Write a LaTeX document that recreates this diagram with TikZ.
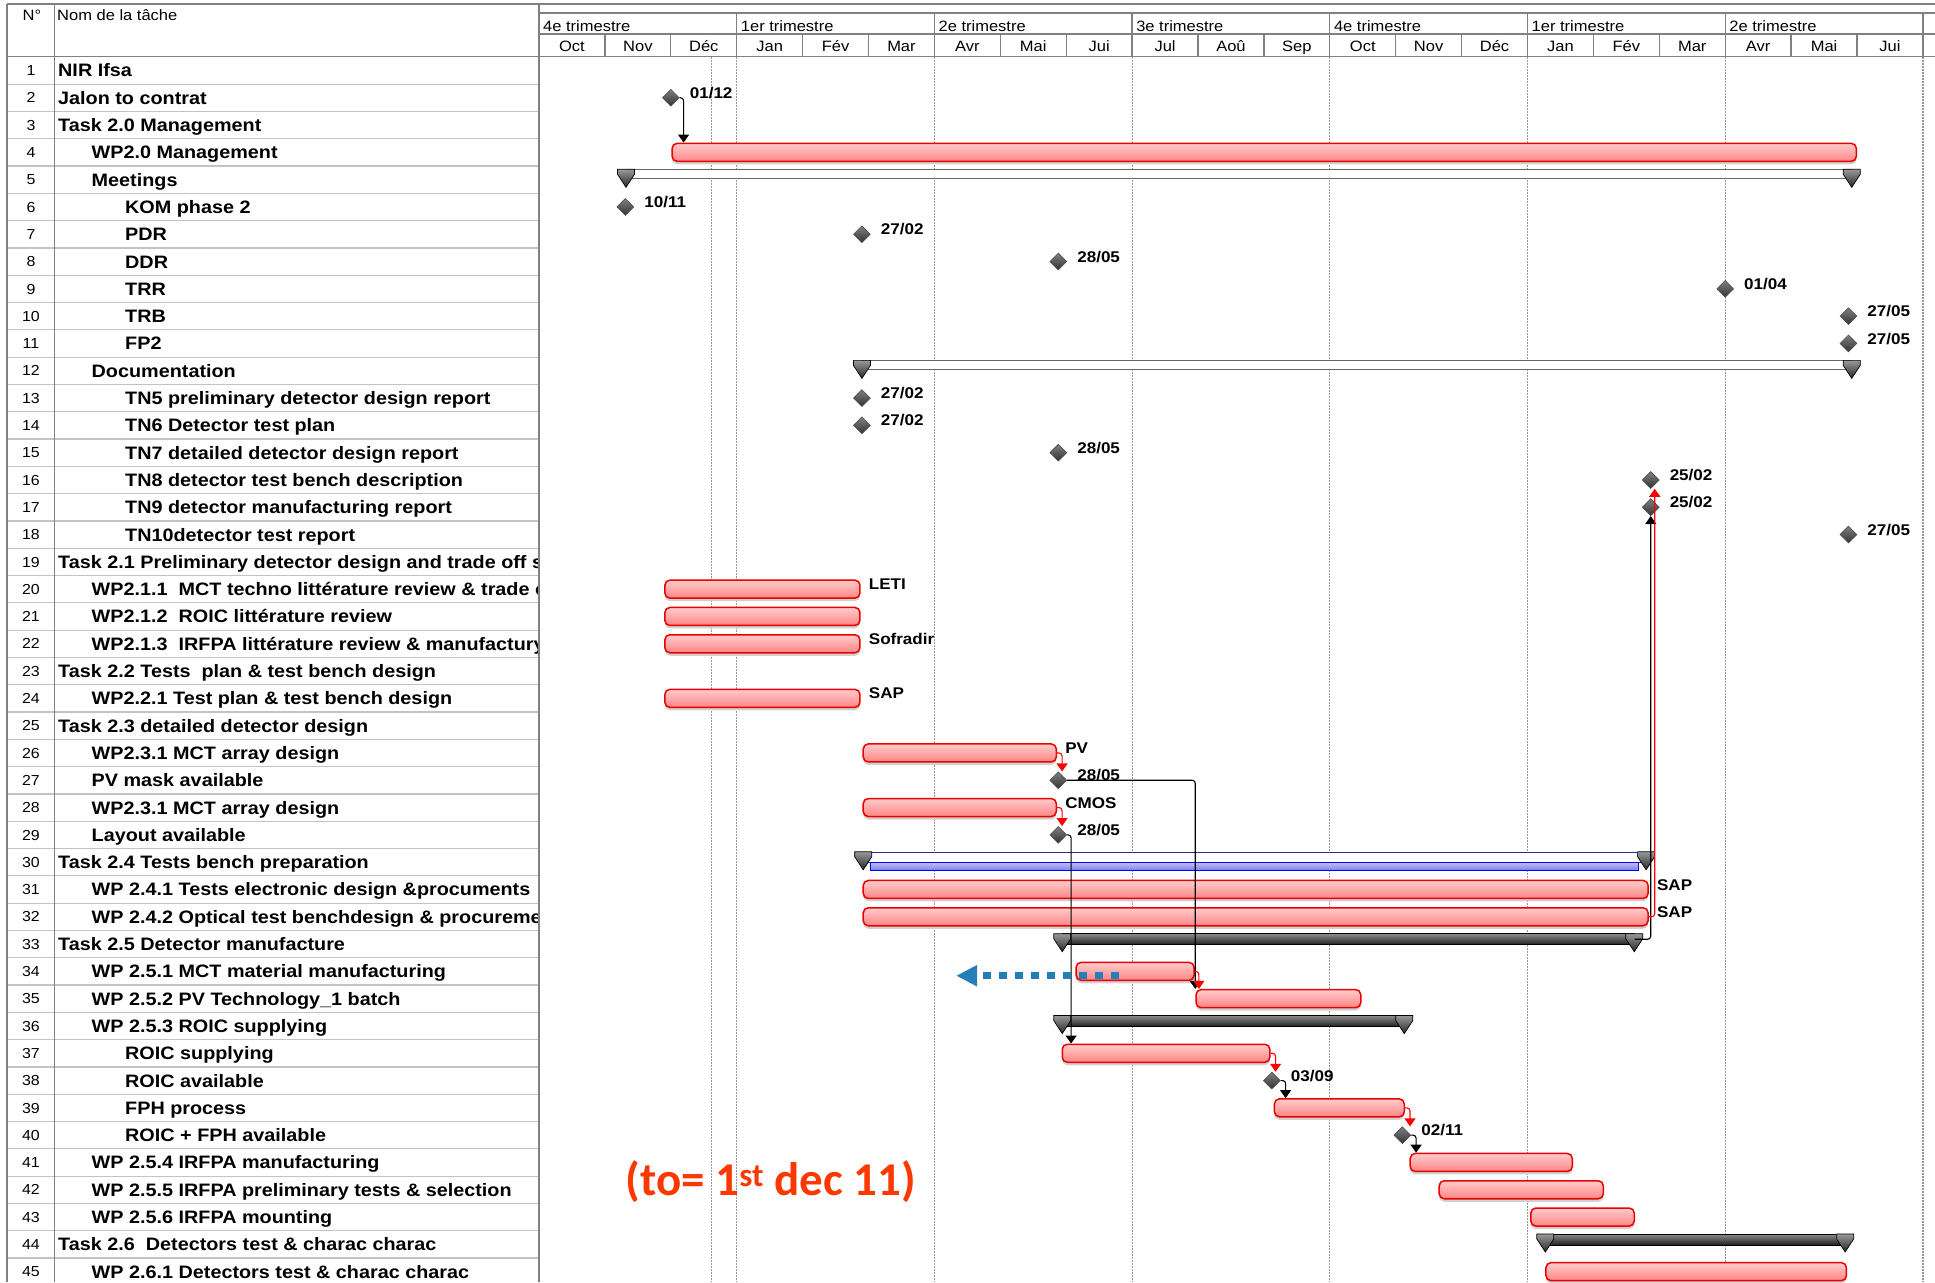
\documentclass[tikz,border=0pt]{standalone}
\usepackage{fontspec}
\setmainfont{Liberation Sans}[FakeStretch=1.1]
\newfontfamily\calibrifont{Carlito}
\usetikzlibrary{shapes.geometric, arrows.meta, positioning, shadows}

\definecolor{barred}{RGB}{235,0,0}
\definecolor{gridgray}{RGB}{150,150,150}
\definecolor{linegray}{RGB}{128,128,128}
\definecolor{rowgray}{RGB}{195,195,195}
\definecolor{noteorange}{RGB}{250,56,0}
\definecolor{dotblue}{RGB}{36,126,184}
\definecolor{progblue}{RGB}{70,70,230}

% bar: name, start month, end month, row
\newcommand\gbar[4]{%
  \node[taskbar, minimum width={(#3-#2)*65.9pt}] (#1) at ({(#2+#3)/2}, #4-0.5) {};}
% summary bar with end caps
\newcommand\gsum[5][sumbar]{%
  \node[#1, minimum width={(#4-#3)*65.9pt}] (#2) at ({(#3+#4)/2}, #5-0.5) {};
  \pic at (#3, #5-0.88) {sumcap};
  \pic at (#4, #5-0.88) {sumcap};}
% milestone with date
\newcommand\gmile[4]{%
  \node[mstone] (#1) at (#2, #3-0.5) {};
  \node[lbl, right=10pt of #1, yshift=5pt] (#1t) {#4};}
% resource label next to a bar
\newcommand\blabel[3]{\node[lbl, right=8pt of #2, yshift=5pt] (#1) {#3};}

\tikzset{
  sumcap/.pic={\shade[top color=black!40, bottom color=black!85, draw=black, line width=.7pt]
    (-8.5pt,0pt) -- (8.5pt,0pt) -- (8.5pt,-5pt) -- (0pt,-18pt) -- (-8.5pt,-5pt) -- cycle;}
}

\begin{document}
\begin{tikzpicture}[x=1pt, y=-1pt,
  hdr/.style={draw=linegray, line width=1.3pt},
  rowline/.style={draw=rowgray, line width=1.2pt},
  gridline/.style={draw=gridgray, line width=1.2pt, dash pattern=on 2pt off 1pt},
  hdrtext/.style={font=\fontsize{15}{17}\selectfont, inner sep=0pt},
  num/.style={font=\fontsize{14.5}{16}\selectfont, inner sep=0pt, text height=10.4pt, text depth=0pt},
  taskname/.style={font=\bfseries\fontsize{18}{20}\selectfont, anchor=west, inner sep=0pt, text height=12.9pt, text depth=0pt},
  lbl/.style={font=\bfseries\fontsize{15.5}{17}\selectfont, inner sep=0pt, text height=11.1pt, text depth=0pt},
  taskbar/.style={rectangle, draw=barred, line width=1.5pt, rounded corners=5pt, top color=red!20, bottom color=red!48,
    minimum height=18pt, inner sep=0pt, drop shadow={shadow xshift=0pt, shadow yshift=-3pt, fill=black!18, opacity=1}},
  sumbar/.style={rectangle, draw=black, line width=1pt, top color=black!45, bottom color=black!88,
    minimum height=11pt, inner sep=0pt, yshift=4.8pt},
  thinsum/.style={rectangle, draw=black!60, line width=1.1pt, fill=white, minimum height=9pt, inner sep=0pt, yshift=5.5pt},
  bluesum/.style={rectangle, draw=black!40!progblue, line width=1pt, fill=white, minimum height=10pt, inner sep=0pt, yshift=4.5pt},
  progbar/.style={rectangle, draw=blue, line width=1pt, top color=progblue!35, bottom color=progblue!70,
    minimum height=8pt, inner sep=0pt, yshift=-4.3pt},
  mstone/.style={diamond, minimum size=17pt, inner sep=0pt, top color=black!50, bottom color=black!80, draw=black!70, line width=.6pt},
  deplink/.style={draw=black, line width=1.1pt, rounded corners=3pt, -{Triangle[length=8pt, width=11pt]}},
  reddep/.style={draw=red, line width=1.1pt, rounded corners=3pt, -{Triangle[length=8pt, width=11pt]}},
  dotarrow/.style={draw=dotblue, line width=6.5pt, dash pattern=on 8pt off 8pt, -{Triangle[length=21pt, width=20pt]}}
]
\useasboundingbox (0,0) rectangle (1935,1282);

% Grid
\foreach \g in {2.62,3,6,9,12,15,18,21}
  \draw[gridline] ({539+65.9*\g},56.8) -- ({539+65.9*\g},1282);

% Header
\draw[hdr] (7,4) -- (1935,4);
\draw[hdr] (539,13) -- (1935,13);
\draw[hdr] (539,34) -- (1935,34);
\draw[hdr] (7,56.8) -- (1935,56.8);
\foreach \i in {1,...,7} \draw[hdr] ({539+197.7*\i},13) -- ({539+197.7*\i},34);
\foreach \i in {1,...,21} \draw[hdr] ({539+65.9*\i},34) -- ({539+65.9*\i},56.8);
\node[hdrtext, anchor=base] (hN) at (32,20) {N°};
\node[hdrtext, anchor=base west] (hNom) at (57,20) {Nom de la tâche};
\foreach \q [count=\i from 0] in {4e trimestre, 1er trimestre, 2e trimestre, 3e trimestre, 4e trimestre, 1er trimestre, 2e trimestre}
  \node[hdrtext, anchor=base west] (q\i) at ({539+197.7*\i+4}, 31) {\q};
\foreach \mo [count=\i from 0] in {Oct,Nov,Déc,Jan,Fév,Mar,Avr,Mai,Jui,Jul,Aoû,Sep,Oct,Nov,Déc,Jan,Fév,Mar,Avr,Mai,Jui}
  \node[hdrtext, anchor=base] (mo\i) at ({539+65.9*(\i+0.5)}, 51) {\mo};

% Task table
\foreach \r in {1,...,45} \draw[rowline] (7,{56.8+27.3*\r}) -- (539,{56.8+27.3*\r});
\draw[hdr] (7,4) -- (7,1282);
\draw[hdr] (54.5,4) -- (54.5,1282);
\draw[hdr] (539,4) -- (539,1282);
\foreach \r in {1,...,45} \node[num] (n\r) at (31,{56.8+27.3*(\r-0.5)}) {\r};
\begin{scope}
\clip (54.5,56.8) rectangle (537.5,1282);
\foreach \lev/\name [count=\r] in {0/NIR Ifsa, 0/Jalon to contrat, 0/Task 2.0 Management, 1/WP2.0 Management,
  1/Meetings, 2/KOM phase 2, 2/PDR, 2/DDR, 2/TRR, 2/TRB, 2/FP2, 1/Documentation,
  2/TN5 preliminary detector design report, 2/TN6 Detector test plan, 2/TN7 detailed detector design report,
  2/TN8 detector test bench description, 2/TN9 detector manufacturing report, 2/TN10detector test report,
  0/Task 2.1 Preliminary detector design and trade off s, 1/WP2.1.1\ \ MCT techno littérature review \& trade o,
  1/WP2.1.2\ \ ROIC littérature review, 1/WP2.1.3\ \ IRFPA littérature review \& manufactury,
  0/Task 2.2 Tests\ \ plan \& test bench design, 1/WP2.2.1 Test plan \& test bench design,
  0/Task 2.3 detailed detector design, 1/WP2.3.1 MCT array design, 1/PV mask available,
  1/WP2.3.1 MCT array design, 1/Layout available, 0/Task 2.4 Tests bench preparation,
  1/WP 2.4.1 Tests electronic design \&procuments, 1/WP 2.4.2 Optical test benchdesign \& procureme,
  0/Task 2.5 Detector manufacture, 1/WP 2.5.1 MCT material manufacturing, 1/WP 2.5.2 PV Technology\_1 batch,
  1/WP 2.5.3 ROIC supplying, 2/ROIC supplying, 2/ROIC available, 2/FPH process, 2/ROIC + FPH available,
  1/WP 2.5.4 IRFPA manufacturing, 1/WP 2.5.5 IRFPA preliminary tests \& selection, 1/WP 2.5.6 IRFPA mounting,
  0/Task 2.6\ \ Detectors test \& charac charac, 1/WP 2.6.1 Detectors test \& charac charac}
  \node[taskname] (t\r) at ({58+33.5*\lev},{56.8+27.3*(\r-0.5)}) {\name};
\end{scope}

% Chart: x in months from Oct, y in rows
\begin{scope}[shift={(539,56.8)}, x=65.9pt, y=-27.3pt]
% Bars
\gbar{b4}{2.02}{19.99}{4}
\foreach \r in {20,21,22,24} {\gbar{b\r}{1.91}{4.87}{\r}}
\gbar{b26}{4.92}{7.85}{26}
\gbar{b28}{4.92}{7.85}{28}
\gbar{b31}{4.92}{16.83}{31}
\gbar{b32}{4.92}{16.83}{32}
\gbar{b34}{8.15}{9.94}{34}
\gbar{b35}{9.97}{12.47}{35}
\gbar{b37}{7.94}{11.09}{37}
\gbar{b39}{11.16}{13.13}{39}
\gbar{b41}{13.22}{15.68}{41}
\gbar{b42}{13.66}{16.15}{42}
\gbar{b43}{15.05}{16.62}{43}
\gbar{b45}{15.28}{19.84}{45}

% Summaries
\gsum[thinsum]{s5}{1.32}{19.92}{5}
\gsum[thinsum]{s12}{4.9}{19.92}{12}
\gsum[bluesum]{s30}{4.92}{16.8}{30}
\node[progbar, minimum width={(16.68-5.03)*65.9pt}] (p30) at ({(5.03+16.68)/2}, 29.5) {};
\gsum{s33}{7.94}{16.62}{33}
\gsum{s36}{7.94}{13.13}{36}
\gsum{s44}{15.27}{19.82}{44}

% Resources
\blabel{l20}{b20}{LETI}
\blabel{l22}{b22}{Sofradir}
\blabel{l24}{b24}{SAP}
\blabel{l26}{b26}{PV}
\blabel{l28}{b28}{CMOS}
\blabel{l31}{b31}{SAP}
\blabel{l32}{b32}{SAP}

% Milestones
\foreach \r/\mx/\dd/\mm in {2/2.0/01/12, 6/1.31/10/11, 7/4.9/27/02, 8/7.88/28/05, 9/18.0/01/04,
  10/19.87/27/05, 11/19.87/27/05, 13/4.9/27/02, 14/4.9/27/02, 15/7.88/28/05, 16/16.87/25/02,
  17/16.87/25/02, 18/19.87/27/05, 27/7.88/28/05, 29/7.88/28/05, 38/11.12/03/09, 40/13.1/02/11}
  {\gmile{m\r}{\mx}{\r}{\dd/\mm}}

% Links
\draw[deplink] (m2.east) -| ([xshift=4pt]m2.east |- b4.north);
\draw[reddep] (b26.east) -| ([xshift=5pt]b26.east |- m27.north);
\draw[reddep] (b28.east) -| ([xshift=5pt]b28.east |- m29.north);
\draw[deplink] (m27.east) -| (b35.north west);
\draw[deplink] (m29.east) -| ([xshift=4pt]m29.east |- b37.north);
\draw[reddep] (b34.east) -| ([xshift=4pt]b34.east |- b35.north);
\draw[reddep] (b37.east) -| ([xshift=5pt]b37.east |- m38.north);
\draw[deplink] (m38.east) -| ([xshift=5pt]m38.east |- b39.north);
\draw[reddep] (b39.east) -| ([xshift=5pt]b39.east |- m40.north);
\draw[deplink] (m40.east) -| ([xshift=5pt]m40.east |- b41.north);
\draw[deplink] (s33.east) -| (m17.south);
\draw[reddep] (b32.east) -| ([xshift=4pt]m16.south);

% Shift arrow
\coordinate (dotA) at (8.8, 33.66);
\coordinate (dotB) at (6.33, 33.66);
\draw[dotarrow] (dotA) -- (dotB);
\end{scope}

\node[font=\calibrifont\bfseries\fontsize{47}{50}\selectfont, text=noteorange, inner sep=0pt] (note) at (771,1182)
  {(to= 1\textsuperscript{st} dec 11)};
\end{tikzpicture}
\end{document}
